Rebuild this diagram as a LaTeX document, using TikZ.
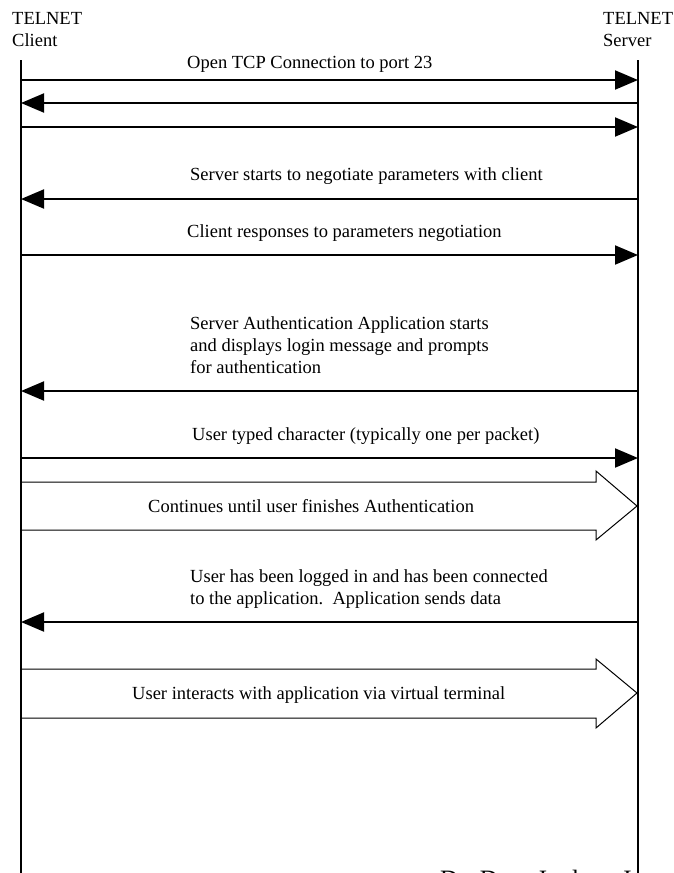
\documentclass[tikz,border=0pt]{standalone}
\usepackage{fontspec}
\setmainfont{Liberation Serif}
\usetikzlibrary{arrows.meta}
\begin{document}
\begin{tikzpicture}[x=1pt,y=-1pt,
  lifeline/.style={line width=2.2pt},
  msg/.style={line width=2pt,-{Triangle[length=23pt,width=19pt]}},
  lbl/.style={anchor=base west,inner sep=0pt,font=\fontsize{18.5}{22}\selectfont},
  bigarrow/.style={line width=1pt,line join=miter}]
\useasboundingbox (0,0) rectangle (674,873);
% headers
\node[lbl] (ht1) at (12,24) {TELNET};
\node[lbl] (ht2) at (12,46) {Client};
\node[lbl] (hs1) at (603,24) {TELNET};
\node[lbl] (hs2) at (603,46) {Server};
% lifelines
\coordinate (ctop) at (21,60); \coordinate (cbot) at (21,873);
\coordinate (stop) at (638,60); \coordinate (sbot) at (638,873);
\draw[lifeline] (ctop) -- (cbot);
\draw[lifeline] (stop) -- (sbot);
% messages
\foreach \n/\y in {a/80,b/103,c/127,d/199,e/255,f/391,g/458,h/622}{
  \coordinate (c\n) at (21,\y); \coordinate (s\n) at (638,\y);
}
\node[lbl] (la) at (187,68) {Open TCP Connection to port 23};
\draw[msg] (ca) -- (sa);
\draw[msg] (sb) -- (cb);
\draw[msg] (cc) -- (sc);
\node[lbl] (ld) at (190,180) {Server starts to negotiate parameters with client};
\draw[msg] (sd) -- (cd);
\node[lbl] (le) at (187,237) {Client responses to parameters negotiation};
\draw[msg] (ce) -- (se);
\node[lbl] (lf1) at (190,329) {Server Authentication Application starts};
\node[lbl] (lf2) at (190,351) {and displays login message and prompts};
\node[lbl] (lf3) at (190,373) {for authentication};
\draw[msg] (sf) -- (cf);
\node[lbl] (lg) at (192,440) {User typed character (typically one per packet)};
\draw[msg] (cg) -- (sg);
% hollow arrow 1
\coordinate (p1a) at (21,482); \coordinate (p1b) at (596,482); \coordinate (p1c) at (596,471);
\coordinate (p1d) at (637,506); \coordinate (p1e) at (596,540); \coordinate (p1f) at (596,530);
\coordinate (p1g) at (21,530);
\draw[bigarrow] (p1a) -- (p1b) -- (p1c) -- (p1d) -- (p1e) -- (p1f) -- (p1g);
\node[lbl] (li) at (148,512) {Continues until user finishes Authentication};
\node[lbl] (lh1) at (190,582) {User has been logged in and has been connected};
\node[lbl] (lh2) at (190,604) {to the application.\ \ Application sends data};
\draw[msg] (sh) -- (ch);
% hollow arrow 2
\coordinate (p2a) at (21,669); \coordinate (p2b) at (596,669); \coordinate (p2c) at (596,659);
\coordinate (p2d) at (637,693); \coordinate (p2e) at (596,728); \coordinate (p2f) at (596,718);
\coordinate (p2g) at (21,718);
\draw[bigarrow] (p2a) -- (p2b) -- (p2c) -- (p2d) -- (p2e) -- (p2f) -- (p2g);
\node[lbl] (lj) at (132,699) {User interacts with application via virtual terminal};
% cut-off footer (only the tops of its letters show)
\begin{scope}
\clip (0,0) rectangle (674,873);
\node[anchor=base west,inner sep=0pt,font=\fontsize{25}{30}\selectfont] (foot) at (440,887) {Dr. Dave Inglese, Inc.};
\end{scope}
\end{tikzpicture}
\end{document}
